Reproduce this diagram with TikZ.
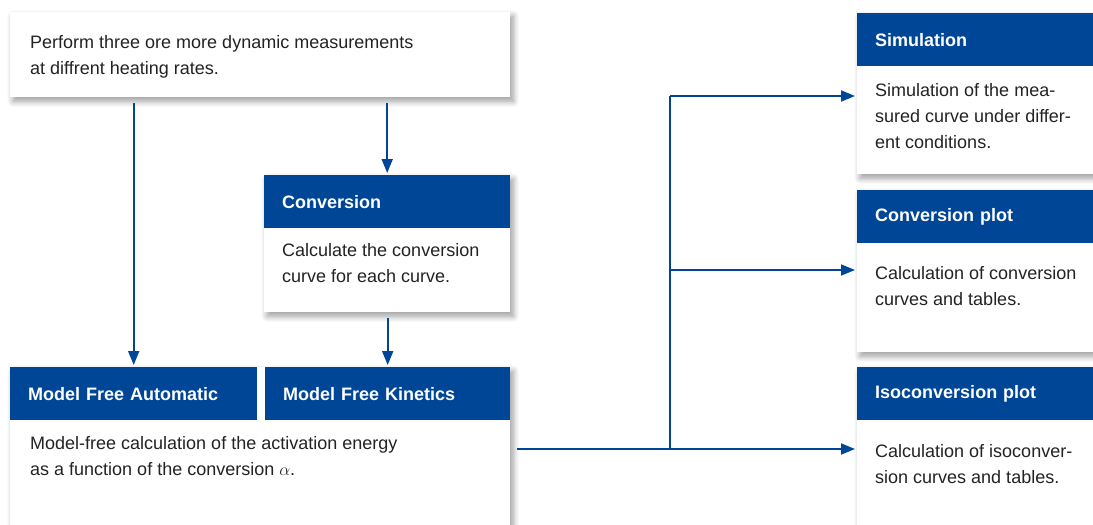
\documentclass[tikz,border=0pt]{standalone}
\usepackage{fontspec}
\setmainfont{Liberation Sans}
\usetikzlibrary{arrows.meta,shadows.blur,calc}
\definecolor{mtblue}{RGB}{0,70,150}
\definecolor{txtgray}{RGB}{35,35,35}
\tikzset{
  box/.style={fill=white, draw=none, anchor=north west, inner sep=0pt,
    blur shadow={shadow xshift=3pt, shadow yshift=-4pt, shadow blur radius=6pt, shadow blur steps=10, shadow opacity=40}},
  hdr/.style={fill=mtblue, anchor=north west, inner ysep=0pt, inner xsep=18pt, minimum height=53pt,
    align=left, text=white, font=\bfseries\fontsize{18}{22}\selectfont},
  btext/.style={anchor=base west, inner sep=0pt, align=left, text=txtgray,
    font=\fontsize{18}{26}\selectfont},
  conn/.style={draw=mtblue, line width=1.8pt},
  arr/.style={conn, -{Triangle[length=14pt,width=11pt]}},
}
\begin{document}
\begin{tikzpicture}[x=1pt,y=-1pt]
\useasboundingbox (0,0) rectangle (1093,525);
% top box
\node[box, minimum width=500pt, minimum height=85pt] (top) at (10,12) {};
\node[btext] (toptext) at (30,74) {Perform three ore more dynamic measurements\\at diffrent heating rates.};
% conversion
\node[box, minimum width=246pt, minimum height=137pt] (conv) at (264,175) {};
\node[hdr, text width=210pt] (convh) at (264,175) {Conversion};
\node[btext] (convt) at (282,282) {Calculate the conversion\\curve for each curve.};
% model free
\node[box, minimum width=500pt, minimum height=170pt] (mf) at (10,367) {};
\node[hdr, text width=211pt] (mfa) at (10,367) {Model Free Automatic};
\node[hdr, text width=209pt] (mfk) at (265,367) {Model Free Kinetics};
\node[fill=white, anchor=north west, inner sep=0pt, minimum width=8pt, minimum height=53pt] (gap) at (257,367) {};
\node[btext] (mft) at (30,475) {Model-free calculation of the activation energy\\as a function of the conversion $\alpha$.};
% right boxes
\node[box, minimum width=250pt, minimum height=161pt] (sim) at (857,13) {};
\node[hdr, text width=214pt] (simh) at (857,13) {Simulation};
\node[btext] (simt) at (875,148) {Simulation of the mea-\\sured curve under differ-\\ent conditions.};
\node[box, minimum width=250pt, minimum height=162pt] (cp) at (857,190) {};
\node[hdr, text width=214pt] (cph) at (857,190) {Conversion plot};
\node[btext] (cpt) at (875,305) {Calculation of conversion\\curves and tables.};
\node[box, minimum width=250pt, minimum height=170pt] (ip) at (857,367) {};
\node[hdr, text width=214pt] (iph) at (857,367) {Isoconversion plot};
\node[btext] (ipt) at (875,483) {Calculation of isoconver-\\sion curves and tables.};
% connectors
\coordinate (j) at (670,449);
\coordinate (jt) at (670,96);
\coordinate (jm) at (670,270);
\coordinate (simin) at (857,96);
\coordinate (cpin) at (857,270);
\coordinate (ipin) at (857,449);
\draw[arr, shorten <=6pt, shorten >=2pt] (top.south -| mfa.north) -- (mfa.north);
\draw[arr, shorten <=6pt, shorten >=2pt] (top.south -| convh.north) -- (convh.north);
\draw[arr, shorten <=6pt, shorten >=2pt] (conv.south -| mfk.north) -- (mfk.north);
\draw[conn, shorten <=7pt] (mf.east |- j) -- (j);
\draw[conn] (j) -- (jt);
\draw[arr, shorten >=2pt] (jt) -- (simin);
\draw[arr, shorten >=2pt] (jm) -- (cpin);
\draw[arr, shorten >=2pt] (j) -- (ipin);
\end{tikzpicture}
\end{document}
